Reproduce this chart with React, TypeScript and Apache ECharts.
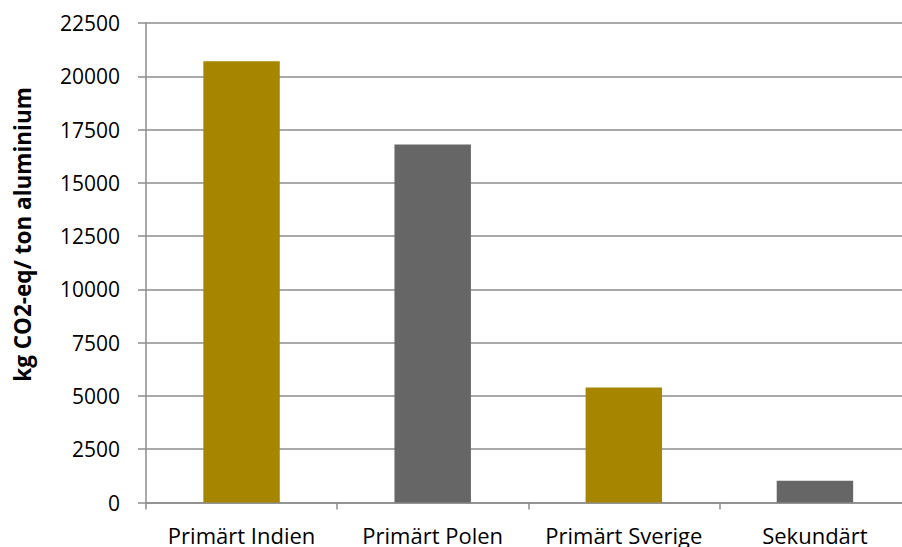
import React, { useEffect, useRef } from "react";
import * as echarts from "echarts";

// Carbon footprint of aluminium by production route
const categories = ["Primärt Indien", "Primärt Polen", "Primärt Sverige", "Sekundärt"];
const emissions = [20700, 16800, 5400, 1020];
const barColors = ["#A68600", "#666666", "#A68600", "#666666"];
const yTitle = "kg CO2-eq/ ton aluminium";

const FONT = "'Open Sans', 'Noto Sans', sans-serif";

export default function App() {
  const ref = useRef<HTMLDivElement>(null);

  useEffect(() => {
    document.body.style.margin = "0";
    document.body.style.overflow = "hidden";
    if (!ref.current) return;
    const chart = echarts.init(ref.current, null, { renderer: "svg" });
    chart.setOption({
      animation: false,
      backgroundColor: "#ffffff",
      // the plot runs slightly past the right edge of the visible page
      grid: { left: 146, width: 764.5, top: 23, height: 479.5, containLabel: false },
      xAxis: {
        type: "category",
        data: categories,
        axisLine: { lineStyle: { color: "#8c8c8c", width: 1.5 } },
        axisTick: { show: true, length: 7, lineStyle: { color: "#8c8c8c", width: 1.5 } },
        axisLabel: { color: "#000", fontFamily: FONT, fontSize: 22, margin: 21, interval: 0 },
      },
      yAxis: {
        type: "value",
        min: 0,
        max: 22500,
        interval: 2500,
        axisLine: { show: true, lineStyle: { color: "#8c8c8c", width: 1.5 } },
        axisTick: { show: true, length: 8, lineStyle: { color: "#8c8c8c", width: 1.5 } },
        axisLabel: {
          color: "#000",
          fontFamily: FONT,
          fontSize: 21,
          margin: 26,
          formatter: (v: number) => String(v),
        },
        splitLine: { lineStyle: { color: "#8c8c8c", width: 1.5 } },
      },
      graphic: [
        {
          type: "text",
          x: 22,
          y: 234.5,
          rotation: Math.PI / 2,
          style: {
            text: yTitle,
            font: `bold 22.5px ${FONT}`,
            fill: "#000",
            textAlign: "center",
            textVerticalAlign: "middle",
          },
        },
      ],
      series: [
        {
          type: "bar",
          barWidth: "40%",
          data: emissions.map((v, i) => ({
            value: v,
            itemStyle: { color: barColors[i] },
          })),
        },
      ],
    });
    return () => chart.dispose();
  }, []);

  return <div ref={ref} style={{ width: 920, height: 547 }} />;
}
